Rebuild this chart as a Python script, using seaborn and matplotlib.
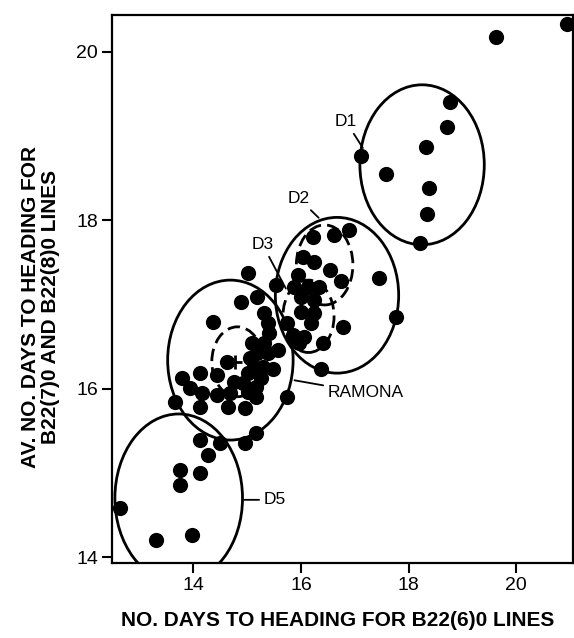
import matplotlib
matplotlib.use("Agg")
import matplotlib.pyplot as plt
import seaborn as sns
from matplotlib.patches import Ellipse

# days to heading: B22(6)0 lines (x) vs mean of B22(7)0 and B22(8)0 lines (y)
days_b6 = [
    19.62, 20.94,
    18.76, 18.72, 18.33, 17.12, 17.58, 18.37, 18.35, 18.22,
    16.22, 16.61, 16.89, 16.03, 16.24, 16.54, 16.74, 17.45, 15.94, 15.87,
    16.13, 16.33, 16.00, 16.24, 16.00, 16.24, 15.75, 16.18, 16.78, 15.85,
    16.05, 16.41, 15.96, 16.37, 17.77, 15.53, 15.01,
    14.88, 15.19, 15.31, 15.38, 15.40, 15.31, 14.37, 15.10, 15.57, 15.38,
    15.19, 15.06, 14.63, 15.49, 15.29, 15.12, 15.01, 14.75, 14.93, 15.16,
    14.45, 14.13, 13.79, 13.94, 14.17, 14.45, 14.69, 15.01, 15.16, 13.66,
    14.13, 14.65, 14.97, 15.75, 15.25,
    14.13, 14.50, 14.28, 13.76, 14.13, 13.76, 12.64, 13.31, 13.98, 14.97,
    15.16,
]
days_b78 = [
    20.18, 20.33,
    19.40, 19.11, 18.87, 18.77, 18.55, 18.38, 18.07, 17.73,
    17.80, 17.82, 17.88, 17.56, 17.50, 17.41, 17.28, 17.31, 17.35, 17.21,
    17.21, 17.21, 17.09, 17.05, 16.91, 16.90, 16.78, 16.78, 16.73, 16.64,
    16.61, 16.54, 16.54, 16.24, 16.85, 17.23, 17.37,
    17.03, 17.09, 16.90, 16.78, 16.66, 16.54, 16.79, 16.54, 16.46, 16.43,
    16.42, 16.36, 16.32, 16.24, 16.26, 16.26, 16.19, 16.08, 16.07, 16.02,
    16.16, 16.19, 16.13, 16.01, 15.95, 15.92, 15.95, 15.96, 15.90, 15.84,
    15.78, 15.78, 15.77, 15.90, 16.13,
    15.39, 15.35, 15.21, 15.03, 15.00, 14.86, 14.58, 14.20, 14.26, 15.35,
    15.47,
]

# group ellipses: name, centre x, centre y, width, height, dashed
group_names = ["D1", "D2", "D2 core", "D3 core", "RAMONA", "RAMONA core", "D5"]
group_cx = [18.25, 16.67, 16.44, 16.14, 14.69, 14.82, 13.73]
group_cy = [18.66, 17.11, 17.47, 16.86, 16.34, 16.32, 14.70]
group_w = [2.31, 2.29, 1.05, 0.95, 2.33, 0.95, 2.37]
group_h = [1.90, 1.85, 0.95, 0.86, 1.90, 0.83, 2.00]
group_dashed = [False, False, True, True, False, True, False]

ramona_x = [14.78]
ramona_y = [16.32]

xticks = [14, 16, 18, 20]
yticks = [14, 16, 18, 20]

sns.set_style("ticks")
plt.rcParams['font.family'] = ['Liberation Sans', 'DejaVu Sans']
plt.rcParams['text.color'] = "black"
plt.rcParams['axes.labelcolor'] = "black"

fig = plt.figure(figsize=(5.74, 6.38), dpi=100)
ax = fig.add_axes([0.195, 0.1176, 0.803, 0.859])

sns.scatterplot(x=days_b6, y=days_b78, color="black", s=120, linewidth=0,
                legend=False, ax=ax, zorder=3)

for name, cx, cy, w, h, dashed in zip(group_names, group_cx, group_cy,
                                      group_w, group_h, group_dashed):
    ls = (0, (4.5, 2.2)) if dashed else "-"
    ax.add_patch(Ellipse((cx, cy), w, h, fill=False, edgecolor="black",
                         lw=2.0, linestyle=ls, zorder=2))

ax.plot(ramona_x, ramona_y, marker="+", color="black", markersize=10,
        mew=2, linestyle="none", zorder=4)

# labels with leader lines
line_kw = dict(arrowstyle="-", color="black", lw=1.3, shrinkA=1, shrinkB=0)
ax.annotate("D1", xy=(17.15, 18.86), xytext=(16.84, 19.17), fontsize=12.5,
            ha="center", va="center", arrowprops=line_kw)
ax.annotate("D2", xy=(16.33, 18.03), xytext=(15.96, 18.26), fontsize=12.5,
            ha="center", va="center", arrowprops=line_kw)
ax.annotate("D3", xy=(15.72, 17.19), xytext=(15.29, 17.71), fontsize=12.5,
            ha="center", va="center", arrowprops=line_kw)
ax.annotate("RAMONA", xy=(15.88, 16.10), xytext=(16.50, 15.95), fontsize=12.5,
            ha="left", va="center", arrowprops=line_kw)
ax.annotate("D5", xy=(14.95, 14.68), xytext=(15.31, 14.68), fontsize=12.5,
            ha="left", va="center", arrowprops=line_kw)

ax.set_xlim(12.49, 21.05)
ax.set_ylim(13.93, 20.44)
ax.set_xticks(xticks)
ax.set_yticks(yticks)
ax.tick_params(direction="out", length=7, width=1.5, labelsize=14, pad=3,
               colors="black")
for sp in ax.spines.values():
    sp.set_linewidth(1.6)
    sp.set_color("black")
    sp.set_visible(True)

ax.set_xlabel("NO. DAYS TO HEADING FOR B22(6)0 LINES", fontsize=15,
              fontweight="bold")
ax.xaxis.set_label_coords(0.49, -0.087)
ax.set_ylabel("AV. NO. DAYS TO HEADING FOR\nB22(7)0 AND B22(8)0 LINES",
              fontsize=15, fontweight="bold", linespacing=1.1)
ax.yaxis.set_label_coords(-0.112, 0.467)

fig.savefig("out.png", dpi=100)
